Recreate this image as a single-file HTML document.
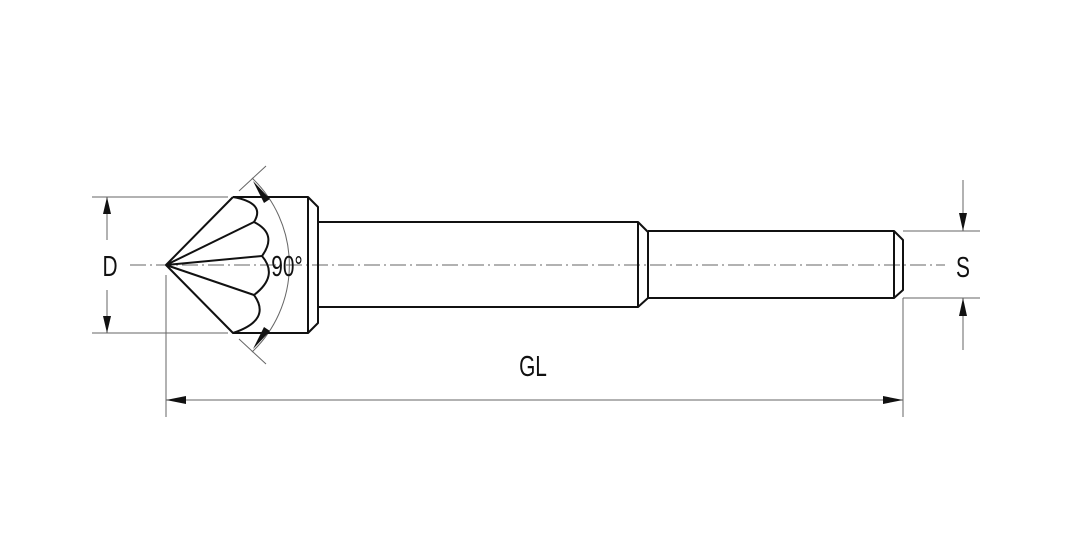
<!DOCTYPE html>
<html><head><meta charset="utf-8"><style>
html,body{margin:0;padding:0;background:#fff}
svg{display:block}
text{font-family:"Liberation Sans Narrow","Liberation Sans",sans-serif;fill:#111}
</style></head><body>
<svg width="1080" height="540" viewBox="0 0 1080 540" xmlns="http://www.w3.org/2000/svg">
<g stroke="#666" stroke-width="1" fill="none">
<line x1="130" y1="265" x2="945" y2="265" stroke-dasharray="16,4,2,4"/>
<line x1="92" y1="197" x2="228" y2="197"/>
<line x1="92" y1="333" x2="228" y2="333"/>
<line x1="107" y1="197" x2="107" y2="240"/>
<line x1="107" y1="290" x2="107" y2="333"/>
<line x1="166" y1="275" x2="166" y2="417"/>
<line x1="903" y1="298" x2="903" y2="417"/>
<line x1="903" y1="298" x2="980" y2="298"/>
<line x1="903" y1="231" x2="980" y2="231"/>
<line x1="166" y1="400" x2="903" y2="400"/>
<line x1="963" y1="180" x2="963" y2="231"/>
<line x1="963" y1="298" x2="963" y2="350"/>
<path d="M 252 178 A 120 120 0 0 1 252 352"/>
<line x1="239" y1="191" x2="266" y2="166"/>
<line x1="239" y1="339" x2="266" y2="364"/>
</g>
<g fill="#111" stroke="none">
<polygon points="107,197 103,214 111,214"/>
<polygon points="107,333 103,316 111,316"/>
<polygon points="166,400 186,396 186,404"/>
<polygon points="903,400 883,396 883,404"/>
<polygon points="963,231 959,213 967,213"/>
<polygon points="963,298 959,316 967,316"/>
<polygon points="253,181 270,199 264,203"/>
<polygon points="253,349 270,331 264,327"/>
</g>
<g stroke="#111" stroke-width="2" fill="none" stroke-linejoin="round">
<polyline points="233,197 308,197 318,207 318,323 308,333 233,333 166,265 233,197"/>
<line x1="308" y1="197" x2="308" y2="333"/>
<line x1="166" y1="265" x2="254" y2="222"/>
<line x1="166" y1="265" x2="262" y2="256"/>
<line x1="166" y1="265" x2="254" y2="295"/>
<path d="M233,197 Q266,203 254,222 Q278,234 262,256 Q279,276 254,295 Q272,320 233,333"/>
<polyline points="318,222 638,222 648,232 648,298 638,307 318,307"/>
<line x1="638" y1="222" x2="638" y2="307"/>
<polyline points="648,231 894,231 903,240 903,290 894,298 648,298"/>
<line x1="894" y1="231" x2="894" y2="298"/>
</g>
<g font-size="29">
<text transform="translate(110,276) scale(0.72,1)" text-anchor="middle">D</text>
<text transform="translate(287,276) scale(0.72,1)" text-anchor="middle">90°</text>
<text transform="translate(963,277) scale(0.72,1)" text-anchor="middle">S</text>
<text transform="translate(533,376) scale(0.72,1)" text-anchor="middle">GL</text>
</g>
</svg>
</body></html>
